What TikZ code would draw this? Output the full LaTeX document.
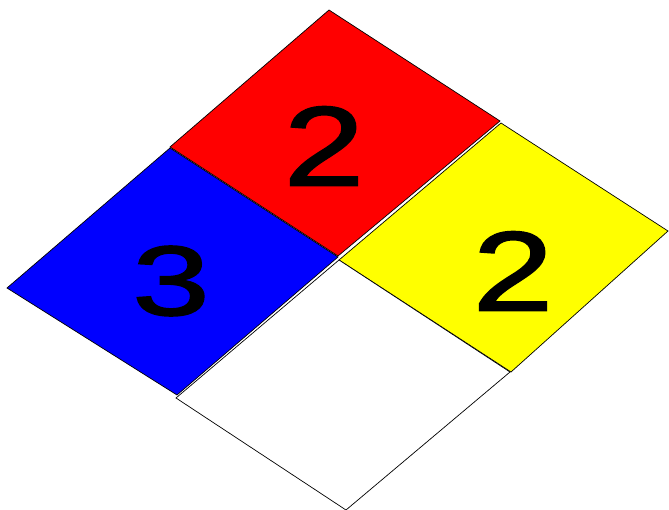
\documentclass[tikz,border=0pt]{standalone}
\usepackage{fontspec}
\setmainfont{Liberation Sans}
\newfontfamily\ratingfont[FakeBold=1.5]{Liberation Sans}
\usepackage{tikz}
\usetikzlibrary{positioning}
\definecolor{panelred}{RGB}{255,0,0}
\definecolor{panelyellow}{RGB}{255,255,0}
\definecolor{panelblue}{RGB}{0,0,255}

\begin{document}
\begin{tikzpicture}[x=1pt, y=-1pt,
  quad/.style={draw=black, line width=0.7pt, line join=miter},
  num/.style={font=\ratingfont\fontsize{113}{113}\selectfont, xscale=1.28, inner sep=0pt, text=black},
]
  \useasboundingbox (0,0) rectangle (669,510);

  % Four diamond panels
  \filldraw[quad, fill=panelred]    (329,10)  -- (500,121) -- (338,256) -- (170,147) -- cycle;
  \filldraw[quad, fill=panelyellow] (501,123) -- (668,231) -- (511,372) -- (339,260) -- cycle;
  \filldraw[quad, fill=panelblue]   (170,148) -- (338,257) -- (177,395) -- (7,288)   -- cycle;
  \filldraw[quad, fill=white]       (339,260) -- (510,372) -- (346,510) -- (176,398) -- cycle;

  % Ratings
  \node[num] (flammability) at (324,146) {2};
  \node[num] (instability)  at (513,271) {2};
  \node[num, font=\ratingfont\fontsize{99}{99}\selectfont, xscale=1.1] (health) at (171,281) {3};
\end{tikzpicture}
\end{document}
